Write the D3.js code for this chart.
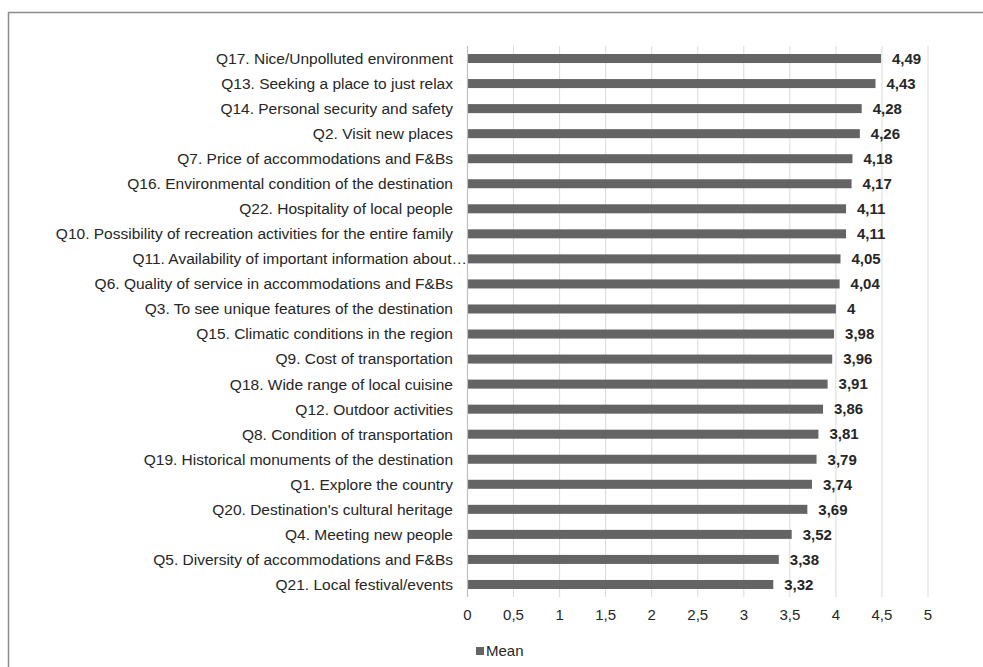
<!DOCTYPE html>
<html>
<head>
<meta charset="utf-8">
<script src="https://cdn.jsdelivr.net/npm/d3@7"></script>
<style>
  body { margin: 0; background: #fff; }
  svg { font-family: "Liberation Sans", Arial, sans-serif; }
</style>
</head>
<body>
<div id="chart"></div>
<script>
// questions, top to bottom
const questions = [
  "Q17. Nice/Unpolluted environment",
  "Q13. Seeking a place to just relax",
  "Q14. Personal security and safety",
  "Q2. Visit new places",
  "Q7. Price of accommodations and F&Bs",
  "Q16. Environmental condition of the destination",
  "Q22. Hospitality of local people",
  "Q10. Possibility of recreation activities for the entire family",
  "Q11. Availability of important information about…",
  "Q6. Quality of service in accommodations and F&Bs",
  "Q3. To see unique features of the destination",
  "Q15. Climatic conditions in the region",
  "Q9. Cost of transportation",
  "Q18. Wide range of local cuisine",
  "Q12. Outdoor activities",
  "Q8. Condition of transportation",
  "Q19. Historical monuments of the destination",
  "Q1. Explore the country",
  "Q20. Destination's cultural heritage",
  "Q4. Meeting new people",
  "Q5. Diversity of accommodations and F&Bs",
  "Q21. Local festival/events"
];
const means = [4.49, 4.43, 4.28, 4.26, 4.18, 4.17, 4.11, 4.11, 4.05, 4.04, 4, 3.98,
               3.96, 3.91, 3.86, 3.81, 3.79, 3.74, 3.69, 3.52, 3.38, 3.32];
const ticks = [0, 0.5, 1, 1.5, 2, 2.5, 3, 3.5, 4, 4.5, 5];

const width = 983, height = 667;
const data = questions.map((q, i) => ({ q: q, v: means[i] }));
const fmt = v => String(v).replace(".", ",");

const svg = d3.select("#chart").append("svg")
    .attr("width", width)
    .attr("height", height);

// outer frame (cut off at right and bottom like the original)
svg.append("rect")
    .attr("x", 8.5).attr("y", 12.5)
    .attr("width", 1000).attr("height", 700)
    .attr("fill", "none")
    .attr("stroke", "#8c8c8c")
    .attr("stroke-width", 1.5);

const x = d3.scaleLinear().domain([0, 5]).range([467.5, 928]);
const y = d3.scaleBand().domain(questions).range([46, 597]).paddingInner(0.64).paddingOuter(0.32);

// gridlines
svg.append("g").selectAll("line")
    .data(ticks.slice(1))
    .enter().append("line")
    .attr("x1", d => x(d)).attr("x2", d => x(d))
    .attr("y1", 46).attr("y2", 597)
    .attr("stroke", "#d9d9d9")
    .attr("stroke-width", 1);

// bars
svg.append("g").selectAll("rect")
    .data(data)
    .enter().append("rect")
    .attr("x", x(0))
    .attr("y", d => y(d.q))
    .attr("width", d => x(d.v) - x(0))
    .attr("height", y.bandwidth())
    .attr("fill", "#646464");

// value axis line at 0
svg.append("line")
    .attr("x1", x(0)).attr("x2", x(0))
    .attr("y1", 46).attr("y2", 597)
    .attr("stroke", "#bfbfbf")
    .attr("stroke-width", 1.2);

// category labels (the truncated one runs up to the axis)
svg.append("g").selectAll("text")
    .data(data)
    .enter().append("text")
    .attr("x", d => d.q.endsWith("…") ? 467 : 453)
    .attr("y", d => y(d.q) + y.bandwidth() / 2)
    .attr("dy", "0.35em")
    .attr("text-anchor", "end")
    .attr("font-size", 15.5)
    .attr("fill", "#262626")
    .text(d => d.q);

// value labels
svg.append("g").selectAll("text")
    .data(data)
    .enter().append("text")
    .attr("x", d => x(d.v) + 11)
    .attr("y", d => y(d.q) + y.bandwidth() / 2)
    .attr("dy", "0.35em")
    .attr("font-size", 15)
    .attr("font-weight", "bold")
    .attr("fill", "#262626")
    .text(d => fmt(d.v));

// x tick labels
svg.append("g").selectAll("text")
    .data(ticks)
    .enter().append("text")
    .attr("x", d => x(d))
    .attr("y", 615)
    .attr("dy", "0.35em")
    .attr("text-anchor", "middle")
    .attr("font-size", 15)
    .attr("fill", "#262626")
    .text(d => fmt(d));

// legend
svg.append("rect")
    .attr("x", 476).attr("y", 647)
    .attr("width", 8).attr("height", 8)
    .attr("fill", "#646464");
svg.append("text")
    .attr("x", 486).attr("y", 651)
    .attr("dy", "0.35em")
    .attr("font-size", 15)
    .attr("fill", "#262626")
    .text("Mean");
</script>
</body>
</html>
